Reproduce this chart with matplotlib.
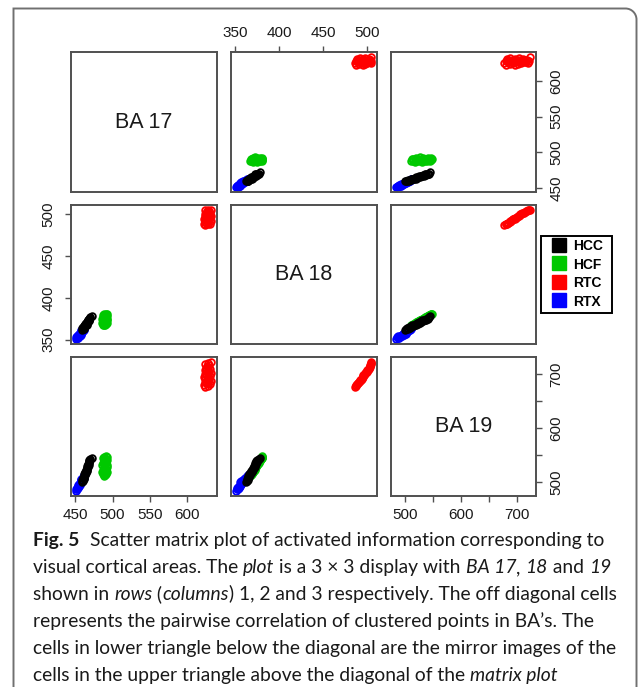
import matplotlib
matplotlib.use('Agg')
import matplotlib.pyplot as plt
from matplotlib.lines import Line2D
from matplotlib.path import Path
from matplotlib.patches import PathPatch, Rectangle
from matplotlib.font_manager import FontProperties

# ---------------- data ----------------
variables = ['BA 17', 'BA 18', 'BA 19']
groups = ['HCC', 'HCF', 'RTC', 'RTX']
group_colors = ['#000000', '#00C800', '#FF0000', '#0000FF']

hcc_ba17 = [459, 460, 459, 461, 460, 461, 462, 461, 463, 462, 463, 464, 463, 465, 464,
            465, 466, 465, 467, 466, 467, 468, 467, 469, 468, 469, 470, 469, 470, 472]
hcc_ba18 = [362, 363, 364, 363, 365, 364, 366, 365, 367, 366, 368, 367, 369, 368, 370,
            369, 371, 370, 372, 371, 373, 372, 374, 373, 375, 374, 376, 375, 377, 378]
hcc_ba19 = [500, 502, 504, 505, 507, 508, 510, 511, 513, 514, 516, 517, 519, 520, 522,
            523, 525, 526, 528, 529, 531, 532, 534, 535, 537, 538, 540, 541, 543, 545]

hcf_ba17 = [488, 490, 487, 491, 489, 486, 492, 488, 490, 487, 491, 489, 493, 488, 490,
            486, 492, 489, 491, 487, 490, 488, 492, 489, 491, 487, 490, 492, 489, 491]
hcf_ba18 = [367, 368, 368, 369, 369, 370, 370, 371, 371, 372, 372, 373, 373, 374, 374,
            375, 375, 376, 376, 377, 377, 378, 378, 379, 379, 380, 380, 381, 381, 381]
hcf_ba19 = [511, 513, 514, 515, 517, 518, 519, 520, 522, 523, 524, 526, 527, 528, 530,
            531, 532, 534, 535, 536, 538, 539, 540, 542, 543, 544, 545, 546, 547, 548]

rtc_ba17 = [625, 628, 623, 631, 626, 629, 624, 632, 627, 630, 625, 628, 623, 631, 626,
            629, 624, 632, 627, 630, 625, 628, 631, 626, 629, 627, 630, 625, 628, 633]
rtc_ba18 = [487, 488, 488, 489, 490, 490, 491, 492, 492, 493, 494, 494, 495, 496, 496,
            497, 498, 498, 499, 500, 500, 501, 502, 502, 503, 504, 504, 505, 505, 505]
rtc_ba19 = [677, 679, 680, 681, 683, 684, 686, 687, 689, 690, 692, 693, 695, 696, 698,
            699, 701, 702, 704, 705, 707, 708, 710, 711, 713, 715, 717, 719, 721, 723]

rtx_ba17 = [451, 452, 451, 453, 452, 453, 454, 453, 455, 454, 456, 455, 456, 457, 456,
            457, 458, 457, 458, 459, 458, 460, 459, 460, 461, 460, 461, 462, 462, 463]
rtx_ba18 = [351, 352, 353, 352, 354, 354, 353, 355, 355, 356, 355, 357, 357, 356, 358,
            358, 357, 359, 360, 359, 361, 360, 362, 361, 362, 363, 364, 363, 365, 366]
rtx_ba19 = [484, 487, 486, 489, 488, 491, 490, 492, 493, 495, 494, 496, 497, 499, 498,
            500, 502, 501, 503, 504, 505, 506, 505, 507, 508, 509, 510, 511, 512, 514]

data = {
    'HCC': [hcc_ba17, hcc_ba18, hcc_ba19],
    'HCF': [hcf_ba17, hcf_ba18, hcf_ba19],
    'RTC': [rtc_ba17, rtc_ba18, rtc_ba19],
    'RTX': [rtx_ba17, rtx_ba18, rtx_ba19],
}
draw_order = ['HCF', 'RTC', 'RTX', 'HCC']

var_ticks = [[450, 500, 550, 600], [350, 400, 450, 500], [500, 550, 600, 650, 700]]
var_ticklabels = [['450', '500', '550', '600'], ['350', '400', '450', '500'],
                  ['500', '', '600', '', '700']]

caption_lines = [
    [("Fig. 5", 'bold'), ("Scatter matrix plot of activated information corresponding to", 'normal')],
    [("visual cortical areas. The ", 'normal'), ("plot", 'italic'), (" is a 3 \u00d7 3 display with ", 'normal'),
     ("BA 17", 'italic'), (", ", 'normal'), ("18", 'italic'), (" and ", 'normal'), ("19", 'italic')],
    [("shown in ", 'normal'), ("rows", 'italic'), (" (", 'normal'), ("columns", 'italic'),
     (") 1, 2 and 3 respectively. The off diagonal cells", 'normal')],
    [("represents the pairwise correlation of clustered points in BA\u2019s. The", 'normal')],
    [("cells in lower triangle below the diagonal are the mirror images of the", 'normal')],
    [("cells in the upper triangle above the diagonal of the ", 'normal'), ("matrix plot", 'italic')],
]

# ---------------- figure ----------------
W, H = 639, 687
DPI = 100
fig = plt.figure(figsize=(W / DPI, H / DPI), dpi=DPI)
fig.patch.set_facecolor('white')

def px_rect(x0, y0, x1, y1):
    return [x0 / W, 1 - y1 / H, (x1 - x0) / W, (y1 - y0) / H]

col_x = [(70.7, 216.7), (230.7, 376.7), (390.7, 535.7)]
row_y = [(52.3, 192.3), (205.0, 344.0), (356.7, 495.7)]

tick_font = ['Liberation Sans', 'DejaVu Sans']
spine_color = '#505050'
text_color = '#1a1a1a'

# axis limits with 4% extension (R style)
limits = []
for v in range(3):
    allv = [x for g in groups for x in data[g][v]]
    lo, hi = min(allv), max(allv)
    span = hi - lo
    limits.append((lo - 0.04 * span, hi + 0.04 * span))

for i in range(3):
    for j in range(3):
        ax = fig.add_axes(px_rect(col_x[j][0], row_y[i][0], col_x[j][1], row_y[i][1]))
        for s in ax.spines.values():
            s.set_color(spine_color)
            s.set_linewidth(1.4)
        ax.set_xlim(*limits[j])
        ax.set_ylim(*limits[i])
        ax.tick_params(axis='both', which='both', bottom=False, top=False, left=False, right=False,
                       labelbottom=False, labeltop=False, labelleft=False, labelright=False,
                       direction='out', length=4.0, width=1.0, color=spine_color,
                       labelsize=11, labelcolor=text_color)
        ax.set_xticks(var_ticks[j])
        ax.set_xticklabels(var_ticklabels[j], fontfamily=tick_font)
        ax.set_yticks(var_ticks[i])
        ax.set_yticklabels(var_ticklabels[i], fontfamily=tick_font, rotation=90, va='center')
        if i == j:
            ax.text(0.5, 0.5, variables[i], transform=ax.transAxes, ha='center', va='center',
                    fontsize=15.5, family=tick_font, color=text_color)
        else:
            for g in draw_order:
                c = group_colors[groups.index(g)]
                ax.plot(data[g][j], data[g][i], ls='none', marker='o', markersize=4.8,
                        markerfacecolor='none', markeredgecolor=c, markeredgewidth=1.3)
        # R pairs-style alternating axes
        if i == 0 and j % 2 == 1:
            ax.tick_params(axis='x', top=True, labeltop=True, pad=5)
        if i == 2 and j % 2 == 0:
            ax.tick_params(axis='x', bottom=True, labelbottom=True, pad=4.5)
        if j == 0 and i % 2 == 1:
            ax.tick_params(axis='y', left=True, labelleft=True, pad=7)
        if j == 2 and i % 2 == 0:
            ax.tick_params(axis='y', right=True, labelright=True, pad=6)

# legend (entries + separate frame box)
handles = [Line2D([], [], ls='none', marker='s', markersize=10, color=c) for c in group_colors]
leg = fig.legend(handles, groups, loc='upper left', bbox_to_anchor=(551.5 / W, 1 - 239.5 / H),
                 bbox_transform=fig.transFigure, borderaxespad=0, borderpad=0, frameon=False,
                 handlelength=1.1, handleheight=1.0, handletextpad=0.45, labelspacing=0.32,
                 prop=FontProperties(family=tick_font, weight='bold', size=10))
fig.add_artist(Rectangle((541 / W, 1 - 313 / H), 71 / W, 77 / H, transform=fig.transFigure,
                         fill=False, edgecolor='black', linewidth=1.4))

# frame around figure + caption (rounded top-right corner)
def P(x, y):
    return (x / DPI, (H - y) / DPI)
r = 11
x0, y0, x1 = 13.5, 8.5, 636.5
k = 0.5523 * r
verts = [P(x0, H + 5), P(x0, y0), P(x1 - r, y0),
         P(x1 - r + k, y0), P(x1, y0 + r - k), P(x1, y0 + r),
         P(x1, H + 5)]
codes = [Path.MOVETO, Path.LINETO, Path.LINETO, Path.CURVE4, Path.CURVE4, Path.CURVE4, Path.LINETO]
fig.add_artist(PathPatch(Path(verts, codes), transform=fig.dpi_scale_trans, fill=False,
                         edgecolor='#707070', linewidth=1.4))

# caption with mixed styles
renderer = fig.canvas.get_renderer()
cap_family = ['Lato', 'DejaVu Sans']

def fprop(style, size):
    if style == 'bold':
        return FontProperties(family=cap_family, weight='bold', size=size)
    if style == 'italic':
        return FontProperties(family=cap_family, style='italic', size=size)
    return FontProperties(family=cap_family, size=size)

def run_width(s, fp):
    t1 = fig.text(0, 0, '|' + s + '|', fontproperties=fp)
    t2 = fig.text(0, 0, '||', fontproperties=fp)
    w = t1.get_window_extent(renderer).width - t2.get_window_extent(renderer).width
    t1.remove(); t2.remove()
    return w

cap_x0 = 33
line_ends = [628, 612, 631, 575, 631, 556]
base_size = 14.0
meas = sum(sum(run_width(s, fprop(st, base_size)) for s, st in caption_lines[k]) for k in range(1, 6))
target = sum(line_ends[k] - cap_x0 for k in range(1, 6))
cap_size = base_size * target / meas

baselines = [546, 573, 600, 627, 654, 681]
for n, (line, yb) in enumerate(zip(caption_lines, baselines)):
    x = cap_x0
    if n == 0:
        s, st = line[0]
        fp = fprop(st, cap_size)
        fig.text(x / W, 1 - yb / H, s, fontproperties=fp, ha='left', va='baseline', color='#1a1a1a')
        x2 = x + run_width(s, fp) + 11
        fp2 = fprop(line[1][1], cap_size)
        fig.text(x2 / W, 1 - yb / H, line[1][0], fontproperties=fp2, ha='left', va='baseline',
                 color='#1a1a1a')
        continue
    for s, st in line:
        fp = fprop(st, cap_size)
        fig.text(x / W, 1 - yb / H, s, fontproperties=fp, ha='left', va='baseline', color='#1a1a1a')
        x += run_width(s, fp)

fig.savefig('out.png', dpi=DPI, facecolor='white')
